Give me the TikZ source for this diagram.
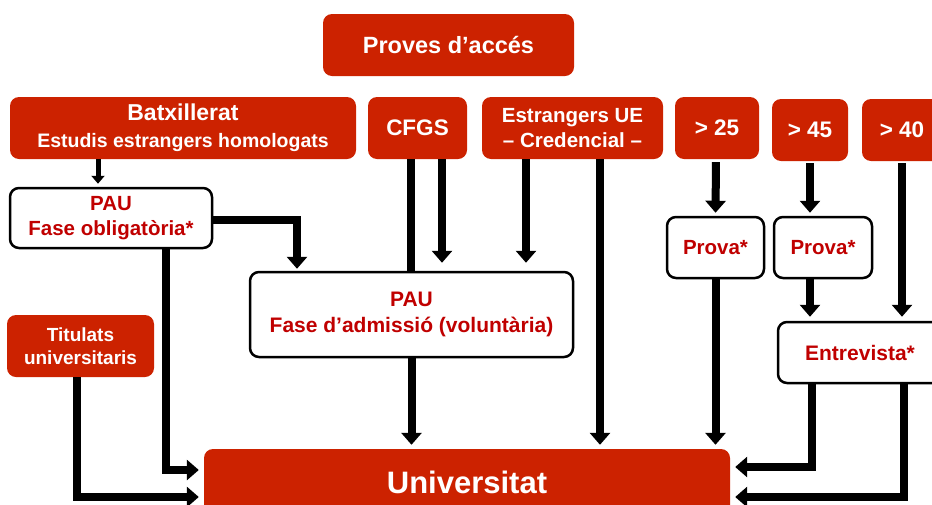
\documentclass[tikz,border=0pt]{standalone}
\usepackage{fontspec}
\setmainfont{Liberation Sans}
\usetikzlibrary{arrows.meta}
\definecolor{boxred}{RGB}{204,34,0}
\definecolor{textred}{RGB}{192,0,0}
\newcommand{\fsz}[2]{\fontsize{#1}{#2}\selectfont\bfseries}

\begin{document}
\begin{tikzpicture}[x=1pt,y=-1pt,
  redbox/.style={fill=boxred,text=white,rounded corners=9pt,align=center,inner sep=0pt,font=\fsz{20.5}{25}},
  whitebox/.style={draw=black,line width=2.5pt,fill=white,text=textred,rounded corners=9pt,align=center,inner sep=0pt,font=\fsz{20.5}{25}},
  link/.style={line width=8pt},
  arr/.style={link,-{Triangle[width=20pt,length=12pt]}},
  thinarr/.style={line width=5pt,-{Triangle[width=13pt,length=8pt]}}]
\useasboundingbox (0,0) rectangle (932,504);
\node[redbox,minimum width=251pt,minimum height=62pt,font=\fsz{23.5}{28}] (acces) at (448.5,45) {Proves d’accés};
\node[redbox,minimum width=346pt,minimum height=62pt,font=\fsz{19.5}{27}] (batx) at (183,128) {{\fsz{23}{27}Batxillerat}\\Estudis estrangers homologats};
\node[redbox,minimum width=99pt,minimum height=62pt,font=\fsz{22.5}{27}] (cfgs) at (417.5,128) {CFGS};
\node[redbox,minimum width=181pt,minimum height=62pt] (estr) at (572.5,128) {Estrangers UE\\– Credencial –};
\node[redbox,minimum width=84pt,minimum height=62pt,font=\fsz{22.5}{27}] (g25) at (717,128) {> 25};
\node[redbox,minimum width=76pt,minimum height=62pt,font=\fsz{22.5}{27}] (g45) at (810,130) {> 45};
\node[redbox,minimum width=80pt,minimum height=62pt,font=\fsz{22.5}{27}] (g40) at (902,130) {> 40};
\node[whitebox,minimum width=202pt,minimum height=60pt] (oblig) at (111,218) {PAU\\Fase obligatòria*};
\node[redbox,minimum width=147pt,minimum height=62pt,font=\fsz{19}{23}] (tit) at (80.5,346) {Titulats\\universitaris};
\node[whitebox,minimum width=323pt,minimum height=85pt,font=\fsz{21}{26}] (adm) at (411.5,314.5) {PAU\\Fase d’admissió (voluntària)};
\node[whitebox,minimum width=97pt,minimum height=61pt] (prova1) at (715.5,247.5) {Prova*};
\node[whitebox,minimum width=98pt,minimum height=61pt] (prova2) at (823,247.5) {Prova*};
\node[whitebox,minimum width=164pt,minimum height=61pt,font=\fsz{21}{26}] (entr) at (860,352.5) {Entrevista*};
\node[redbox,minimum width=526pt,minimum height=66pt,font=\fsz{31}{36}] (univ) at (467,482) {Universitat};
\draw[thinarr,shorten >=3pt] ([xshift=-85pt]batx.south) -- ([xshift=-13pt]oblig.north);
\draw[arr,shorten >=2pt] ([yshift=-2pt]oblig.east) -| ([xshift=-114.5pt]adm.north);
\draw[arr,shorten >=5pt] ([xshift=55pt]oblig.south) |- ([yshift=12pt]univ.west);
\draw[arr,shorten >=5pt] ([xshift=-3.5pt]tit.south) |- ([yshift=-15pt]univ.west);
\draw[link] ([xshift=-6.5pt]cfgs.south) -- ([xshift=-0.5pt]adm.north);
\draw[arr,shorten >=8pt] ([xshift=24.5pt]cfgs.south) -- ([xshift=30.5pt]adm.north);
\draw[arr,shorten >=8pt] ([xshift=-46.5pt]estr.south) -- ([xshift=114.5pt]adm.north);
\draw[arr,shorten >=4pt] ([xshift=27.5pt]estr.south) -- ([xshift=133pt]univ.north);
\draw[arr,shorten >=4pt] (adm.south) -- ([xshift=-55.5pt]univ.north);
\draw[arr,shorten >=3pt,shorten <=3pt] ([xshift=-1pt]g25.south) -- (prova1.north);
\draw[arr,shorten >=4pt] (prova1.south) -- ([xshift=248.5pt]univ.north);
\draw[arr,shorten >=3pt,shorten <=2pt] (g45.south) -- ([xshift=-13pt]prova2.north);
\draw[arr,shorten >=4pt] ([xshift=-13pt]prova2.south) -- ([xshift=-50pt]entr.north);
\draw[arr,shorten >=4pt,shorten <=2pt] (g40.south) -- ([xshift=42pt]entr.north);
\draw[arr,shorten >=5pt] ([xshift=-48pt]entr.south) |- ([yshift=15pt]univ.east);
\draw[arr,shorten >=5pt] ([xshift=44pt]entr.south) |- ([yshift=-15pt]univ.east);
\end{tikzpicture}
\end{document}
